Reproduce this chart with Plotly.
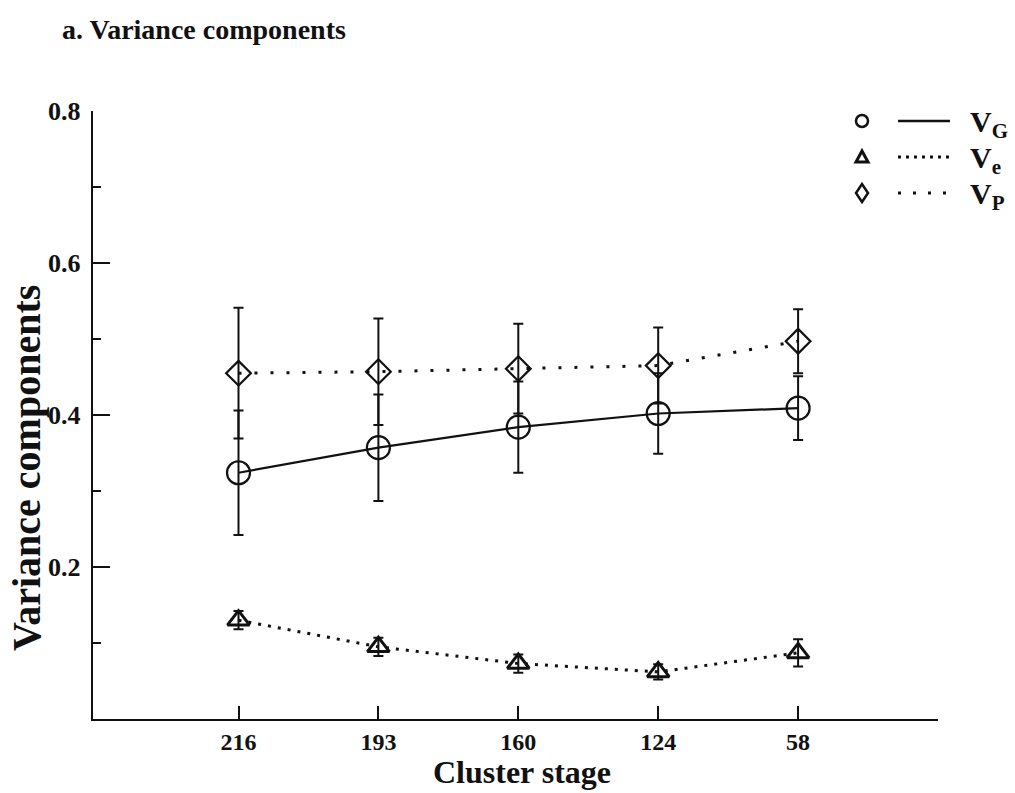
import plotly.graph_objects as go

# Cluster stages along the x axis
stages = ["216", "193", "160", "124", "58"]

# Variance components and their standard errors
vg = [0.324, 0.357, 0.384, 0.402, 0.409]
vg_err = [0.082, 0.070, 0.060, 0.053, 0.042]

ve = [0.130, 0.095, 0.073, 0.062, 0.087]
ve_err = [0.012, 0.012, 0.012, 0.010, 0.018]

vp = [0.455, 0.457, 0.461, 0.465, 0.497]
vp_err = [0.086, 0.070, 0.059, 0.050, 0.042]

y_ticks = [0.2, 0.4, 0.6, 0.8]
y_minor = [0.1, 0.3, 0.5, 0.7]

legend_labels = ["V<sub>G</sub>", "V<sub>e</sub>", "V<sub>P</sub>"]

SERIF = "Liberation Serif"
INK = "#111111"
xpos = list(range(len(stages)))


def err(arr):
    return dict(type="data", array=arr, visible=True, color=INK, thickness=2, width=5)


fig = go.Figure()
fig.add_trace(go.Scatter(
    x=xpos, y=vg, mode="lines+markers", error_y=err(vg_err),
    line=dict(color=INK, width=2.2),
    marker=dict(symbol="circle-open", size=23, color=INK, line=dict(width=2.2)),
    showlegend=False))
fig.add_trace(go.Scatter(
    x=xpos, y=vp, mode="lines+markers", error_y=err(vp_err),
    line=dict(color=INK, width=3, dash="3px,13px"),
    marker=dict(symbol="diamond-open", size=19, color=INK, line=dict(width=2.2)),
    showlegend=False))
fig.add_trace(go.Scatter(
    x=xpos, y=ve, mode="lines+markers", error_y=err(ve_err),
    line=dict(color=INK, width=3, dash="3px,7px"),
    marker=dict(symbol="triangle-up-open", size=19, color=INK, line=dict(width=3)),
    showlegend=False))

# Legend: symbol, line sample, label (pixel-sized shapes anchored in paper space)
W, H = 1015, 793
ML, MR, MT, MB = 93, 77, 111, 74
pw, ph = W - ML - MR, H - MT - MB


def px_x(p):
    return (p - ML) / pw


def px_y(p):
    return (H - MB - p) / ph


rows_y = [121, 157, 193]
sym_x = 862
shapes = []
# circle
shapes.append(dict(type="circle", xref="paper", yref="paper", xsizemode="pixel", ysizemode="pixel",
                   xanchor=px_x(sym_x), yanchor=px_y(rows_y[0]), x0=-6, x1=6, y0=-6, y1=6,
                   line=dict(color=INK, width=2.5)))
# triangle
shapes.append(dict(type="path", xref="paper", yref="paper", xsizemode="pixel", ysizemode="pixel",
                   xanchor=px_x(sym_x), yanchor=px_y(rows_y[1]),
                   path="M -6 -5 L 6 -5 L 0 6 Z", line=dict(color=INK, width=3)))
# diamond
shapes.append(dict(type="path", xref="paper", yref="paper", xsizemode="pixel", ysizemode="pixel",
                   xanchor=px_x(sym_x), yanchor=px_y(rows_y[2]),
                   path="M 0 -9 L 6 0 L 0 9 L -6 0 Z", line=dict(color=INK, width=2.5)))
dashes = ["solid", "3px,5px", "3px,12px"]
for ry, d in zip(rows_y, dashes):
    shapes.append(dict(type="line", xref="paper", yref="paper",
                       x0=px_x(898), x1=px_x(950), y0=px_y(ry), y1=px_y(ry),
                       line=dict(color=INK, width=3 if d != "solid" else 2.5, dash=d)))

annotations = []
for ry, lab in zip(rows_y, legend_labels):
    annotations.append(dict(xref="paper", yref="paper", x=px_x(968), y=px_y(ry + 3),
                            xanchor="left", yanchor="middle", showarrow=False, text=lab,
                            font=dict(family=SERIF, size=30, color=INK, weight="bold")))

# Axis titles
annotations.append(dict(xref="paper", yref="paper", x=px_x(522), y=px_y(792),
                        xanchor="center", yanchor="bottom", showarrow=False, text="Cluster stage",
                        font=dict(family=SERIF, size=32, color=INK, weight="bold")))
annotations.append(dict(xref="paper", yref="paper", x=px_x(26), y=px_y(468),
                        xanchor="center", yanchor="middle", showarrow=False, textangle=-90,
                        text="Variance components",
                        font=dict(family=SERIF, size=40, color=INK, weight="bold")))

fig.update_layout(
    width=W, height=H, autosize=False,
    margin=dict(l=ML, r=MR, t=MT, b=MB),
    paper_bgcolor="white", plot_bgcolor="white",
    title=dict(text="a. Variance components", xref="container", yref="container",
               x=62 / W, xanchor="left", y=1 - 29 / H, yanchor="middle",
               font=dict(family=SERIF, size=28, color=INK, weight="bold")),
    shapes=shapes, annotations=annotations,
    xaxis=dict(range=[-1.04, 5.0], showline=True, linecolor=INK, linewidth=2.4,
               showgrid=False, zeroline=False, ticks="inside", ticklen=13, tickwidth=1.6,
               tickcolor=INK, tickvals=xpos, ticktext=stages, ticklabelstandoff=0,
               tickfont=dict(family=SERIF, size=24, color=INK, weight="bold"),
               minor=dict(tickvals=[5], ticks="inside", ticklen=7, tickwidth=1.6, tickcolor=INK)),
    yaxis=dict(range=[0, 0.8], showline=True, linecolor=INK, linewidth=2.4,
               showgrid=False, zeroline=False, ticks="inside", ticklen=17, tickwidth=1.6,
               tickcolor=INK, tickvals=y_ticks, ticktext=[f"{v:.1f}" for v in y_ticks],
               ticklabelstandoff=5,
               tickfont=dict(family=SERIF, size=26, color=INK, weight="bold"),
               minor=dict(tickvals=y_minor, ticks="inside", ticklen=8, tickwidth=1.6, tickcolor=INK)),
)

fig.write_html("out.html")
